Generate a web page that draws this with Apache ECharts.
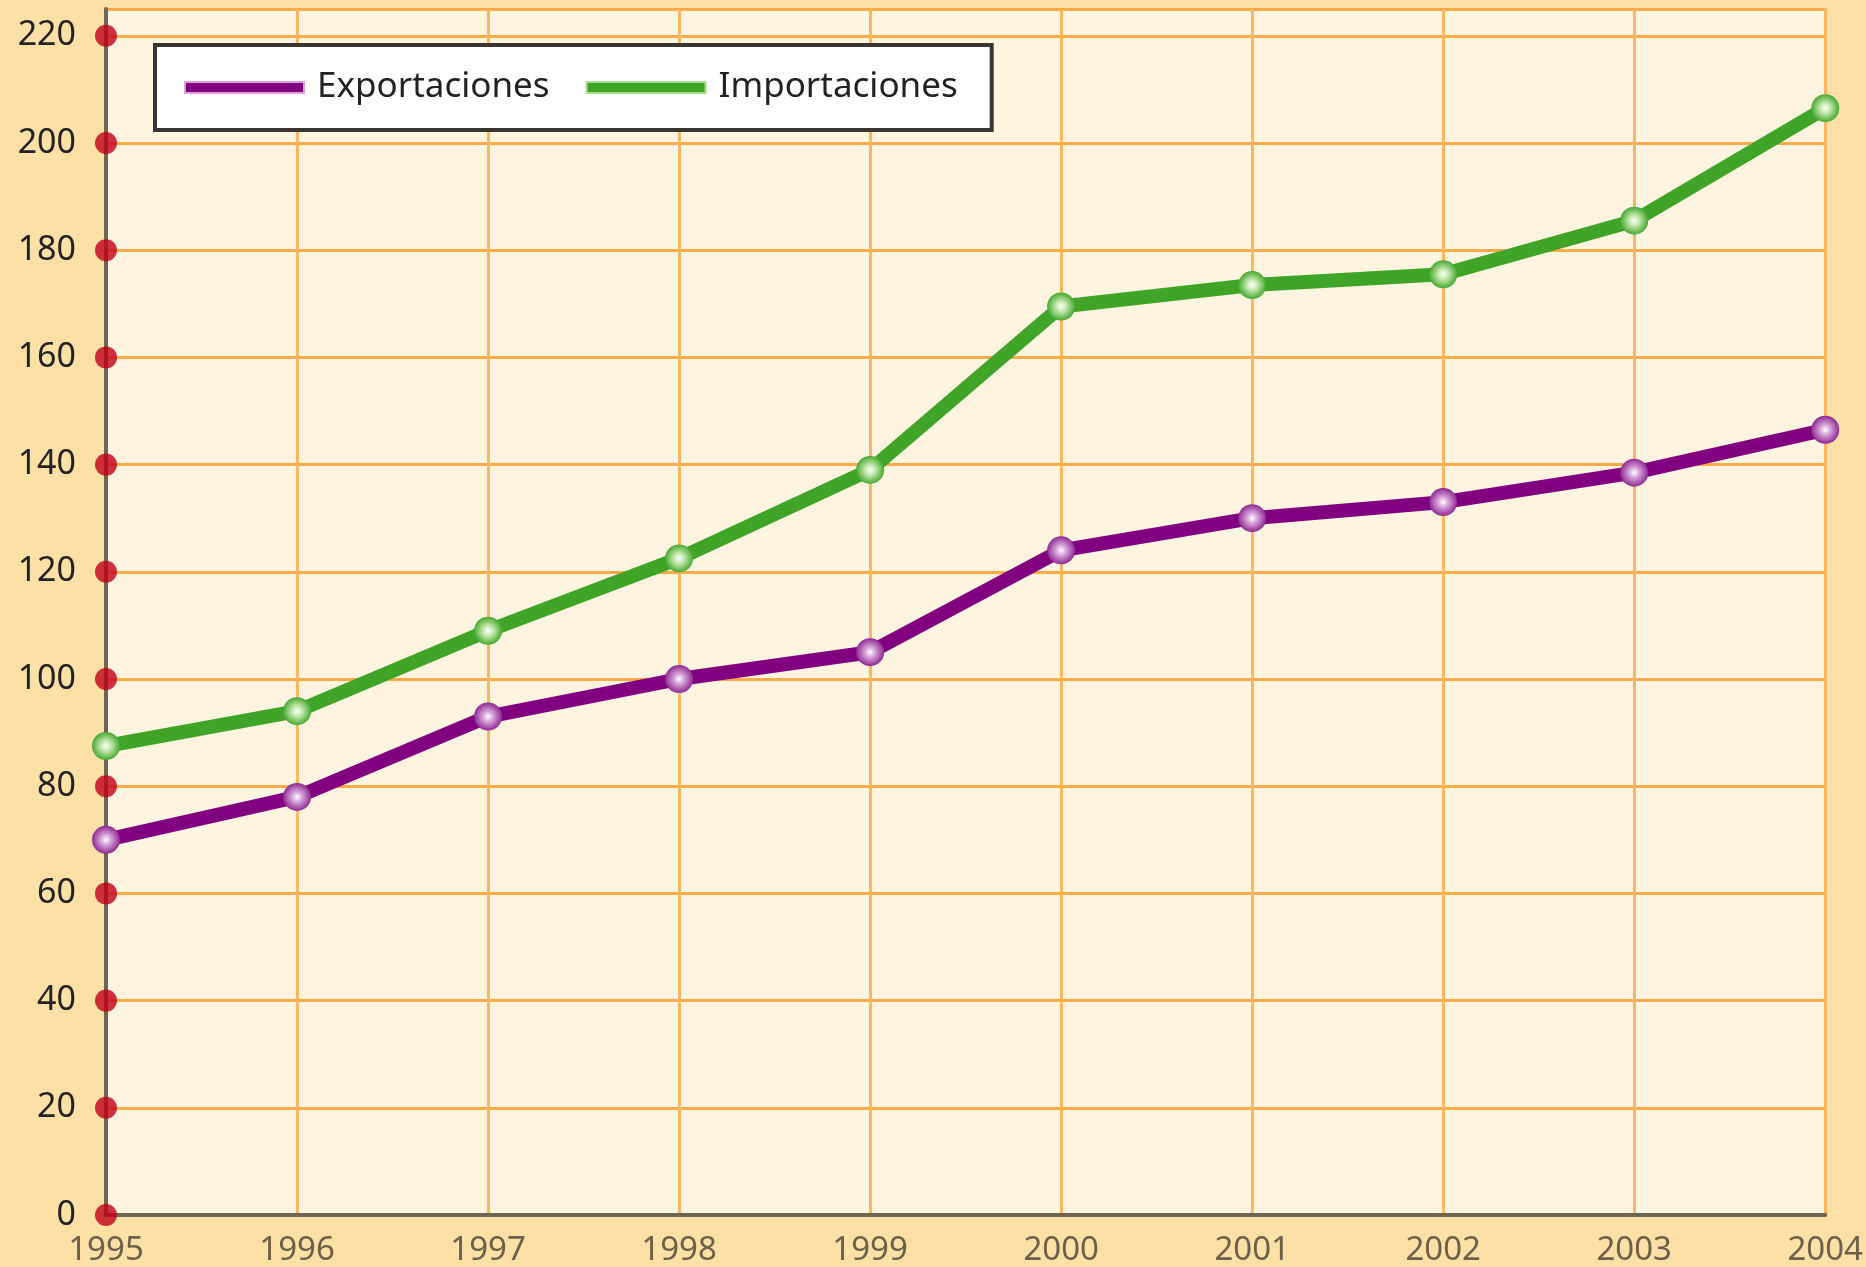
<!DOCTYPE html>
<html lang="es">
<head>
<meta charset="UTF-8">
<script src="https://cdn.jsdelivr.net/npm/echarts@6/dist/echarts.min.js"></script>
<title>Exportaciones e importaciones</title>
<style>
  *{margin:0;padding:0}
  html,body{width:100%;height:100%;background:#fde0a6;overflow:hidden}
  #main{width:1866px;height:1267px}
</style>
</head>
<body>
<div id="main"></div>
<script type="text/javascript">
// datos
var anios = ['1995','1996','1997','1998','1999','2000','2001','2002','2003','2004'];
var exportaciones = [70, 78, 93, 100, 105, 124, 130, 133, 138.5, 146.5];
var importaciones = [87.5, 94, 109, 122.5, 139, 169.5, 173.5, 175.5, 185.5, 206.5];
var marcasY = [0, 20, 40, 60, 80, 100, 120, 140, 160, 180, 200, 220];

var fuente = '"Noto Sans", "Open Sans", sans-serif';

function bola(centro, borde) {
  return {
    type: 'radial', x: 0.5, y: 0.5, r: 0.5,
    colorStops: [
      {offset: 0, color: '#ffffff'},
      {offset: 0.35, color: centro},
      {offset: 1, color: borde}
    ]
  };
}

var myChart = echarts.init(document.getElementById('main'));

var option = {
  backgroundColor: '#fde0a6',
  animation: false,
  grid: {
    left: 106, right: 33, top: 9, bottom: 51,
    show: true,
    backgroundColor: '#fef4df',
    borderColor: '#a89a80',
    borderWidth: 2
  },
  legend: {
    left: 155, top: 45,
    padding: [25, 34, 25, 29],
    backgroundColor: '#ffffff',
    borderColor: '#3a3530',
    borderWidth: 4,
    borderRadius: 0,
    itemWidth: 119,
    itemHeight: 11,
    itemGap: 36,
    icon: 'rect',
    textStyle: {fontFamily: fuente, fontSize: 35, color: '#222', padding: [0, 0, 0, 8]},
    data: [
      {name: 'Exportaciones', itemStyle: {color: '#800080', borderColor: '#d9a0d9', borderWidth: 2}},
      {name: 'Importaciones', itemStyle: {color: '#3fa427', borderColor: '#a8dc90', borderWidth: 2}}
    ]
  },
  xAxis: {
    type: 'category',
    data: anios,
    boundaryGap: false,
    axisLine: {lineStyle: {color: '#6e6553', width: 4}},
    axisTick: {show: false},
    axisLabel: {fontFamily: fuente, fontSize: 33, color: '#6d6048', margin: 19},
    splitLine: {show: true, lineStyle: {color: '#ffb660', width: 3}}
  },
  yAxis: {
    type: 'value',
    min: 0, max: 225, interval: 20,
    axisLine: {show: true, lineStyle: {color: '#6e6553', width: 4}},
    axisTick: {show: false},
    axisLabel: {fontFamily: fuente, fontSize: 34, color: '#222', margin: 30, showMaxLabel: false},
    splitLine: {lineStyle: {color: '#ffaa48', width: 3}}
  },
  series: [
    {
      name: 'marcas',
      type: 'scatter',
      symbol: 'circle',
      symbolSize: 22,
      z: 5,
      silent: true,
      itemStyle: {color: '#c00018'},
      data: marcasY.map(function (v) { return ['1995', v]; })
    },
    {
      name: 'Exportaciones',
      type: 'line',
      data: exportaciones,
      symbol: 'circle',
      symbolSize: 28,
      z: 3,
      lineStyle: {color: '#800080', width: 14},
      itemStyle: {color: bola('#d9a6dc', '#8e2a92')}
    },
    {
      name: 'Importaciones',
      type: 'line',
      data: importaciones,
      symbol: 'circle',
      symbolSize: 28,
      z: 3,
      lineStyle: {color: '#3fa427', width: 14},
      itemStyle: {color: bola('#c6eab0', '#48a832')}
    }
  ]
};

myChart.setOption(option);
</script>
</body>
</html>
